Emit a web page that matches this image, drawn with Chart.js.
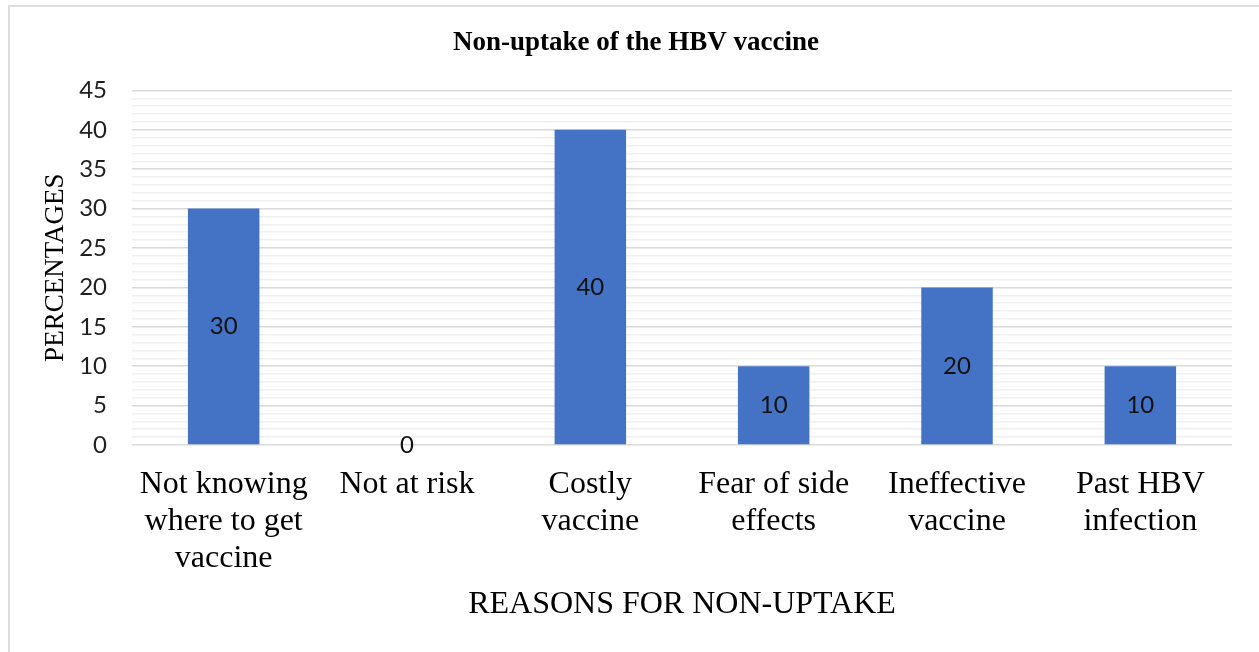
<!DOCTYPE html>
<html lang="en">
<head>
  <meta charset="UTF-8" />
  <title>Non-uptake of the HBV vaccine</title>
  <script src="https://cdn.jsdelivr.net/npm/chart.js"></script>
  <style>
    html, body {
      margin: 0;
      padding: 0;
      background: #fff;
      overflow: hidden;
    }
    .frame {
      position: absolute;
      left: 8px;
      top: 5px;
      width: 1270px;
      height: 670px;
      border: 2px solid #dedede;
    }
    #chart {
      position: absolute;
      left: 0;
      top: 0;
    }
  </style>
</head>
<body>
  <div class="frame"></div>
  <canvas id="chart" width="1259" height="652"></canvas>

  <script>
    // data
    const categories = [
      ['Not knowing', 'where to get', 'vaccine'],
      'Not at risk',
      ['Costly', 'vaccine'],
      ['Fear of side', 'effects'],
      ['Ineffective', 'vaccine'],
      ['Past HBV', 'infection']
    ];
    const percentages = [30, 0, 40, 10, 20, 10];
    const yMax = 45;
    const yMajorStep = 5;

    const serif = '"Times New Roman", "Liberation Serif", serif';
    const sans = 'Lato, Calibri, "Open Sans", sans-serif';

    // value labels in the middle of each bar
    const barValues = {
      id: 'barValues',
      afterDatasetsDraw(chart) {
        const ctx = chart.ctx;
        const meta = chart.getDatasetMeta(0);
        ctx.save();
        ctx.font = '24px ' + sans;
        ctx.fillStyle = '#111';
        ctx.textAlign = 'center';
        ctx.textBaseline = 'middle';
        meta.data.forEach((bar, i) => {
          const p = bar.getCenterPoint();
          ctx.fillText(String(percentages[i]), p.x, p.y);
        });
        ctx.restore();
      }
    };

    new Chart(document.getElementById('chart').getContext('2d'), {
      type: 'bar',
      data: {
        labels: categories,
        datasets: [{
          data: percentages,
          backgroundColor: '#4472c4',
          borderWidth: 0,
          categoryPercentage: 1,
          barPercentage: 0.39
        }]
      },
      options: {
        responsive: false,
        animation: false,
        layout: { padding: { left: 40, right: 27, top: 0, bottom: 0 } },
        plugins: {
          legend: { display: false },
          tooltip: { enabled: false },
          title: {
            display: true,
            text: 'Non-uptake of the HBV vaccine',
            color: '#000',
            font: { family: serif, size: 27, weight: 'bold' },
            padding: { top: 27, bottom: 31 }
          }
        },
        scales: {
          x: {
            grid: { display: false, drawTicks: false },
            border: { display: false },
            ticks: {
              color: '#000',
              font: { family: serif, size: 32, lineHeight: 1.16 },
              padding: 21,
              maxRotation: 0,
              autoSkip: false
            },
            title: {
              display: true,
              text: 'REASONS FOR NON-UPTAKE',
              color: '#000',
              font: { family: serif, size: 32 },
              padding: { top: 9, bottom: 28 }
            },
            afterFit(scale) { scale.height = 207; }
          },
          y: {
            min: 0,
            max: yMax,
            grid: {
              drawTicks: false,
              lineWidth: 1.5,
              color: c => (c.tick && c.tick.value % yMajorStep === 0) ? '#d9d9d9' : '#f0f0f0'
            },
            border: { display: false },
            ticks: {
              stepSize: 1,
              autoSkip: false,
              padding: 25,
              color: '#1f1f1f',
              font: { family: sans, size: 24 },
              callback: v => (v % yMajorStep === 0 ? String(v) : '')
            },
            title: {
              display: true,
              text: 'PERCENTAGES',
              color: '#000',
              font: { family: serif, size: 27 },
              padding: { top: 0, bottom: 8 }
            },
            afterFit(scale) { scale.width = 92; }
          }
        }
      },
      plugins: [barValues]
    });
  </script>
</body>
</html>
